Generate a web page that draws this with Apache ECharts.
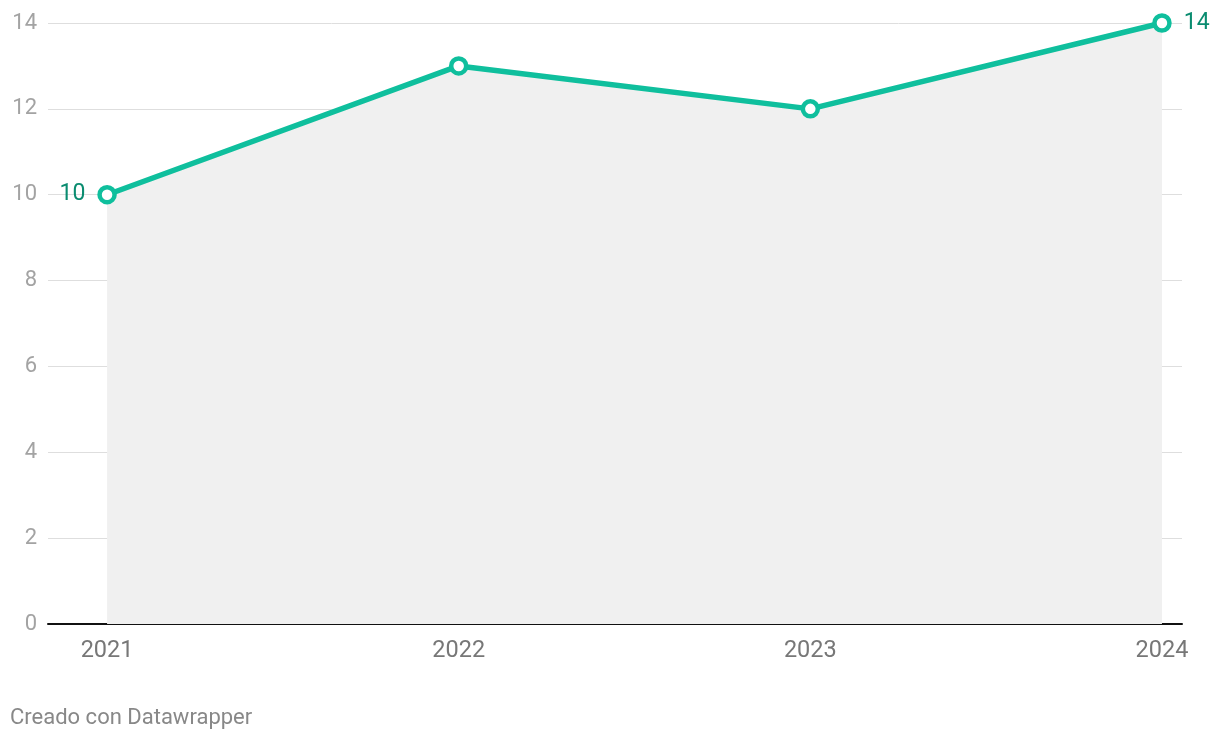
<!DOCTYPE html>
<html><head><meta charset="utf-8">
<script src="https://cdn.jsdelivr.net/npm/echarts@6/dist/echarts.min.js"></script>
<style>html,body{margin:0;padding:0;background:#fff}#c{width:1220px;height:740px}</style>
</head><body><div id="c"></div>
<script>
const years = [2021, 2022, 2023, 2024];
const values = [10, 13, 12, 14];
const yTicks = [0, 2, 4, 6, 8, 10, 12, 14];

const chart = echarts.init(document.getElementById('c'), null, {renderer: 'canvas'});
const teal = '#0fbf9d';
const labelTeal = '#0a8c70';
const data = years.map((y, i) => {
  const d = {value: [y, values[i]]};
  if (i === 0) d.label = {show: true, position: 'left', distance: 12};
  if (i === years.length - 1) d.label = {show: true, position: 'right', distance: 12};
  return d;
});
chart.setOption({
  animation: false,
  textStyle: {fontFamily: 'Roboto'},
  grid: {left: 48, right: 38, top: 23, bottom: 116, containLabel: false},
  xAxis: {
    type: 'value', min: 2020.832, max: 2024.057,
    axisLine: {show: true, lineStyle: {color: '#111', width: 2}},
    axisTick: {show: false},
    splitLine: {show: false},
    axisLabel: {customValues: years, color: '#777', fontSize: 23.5, margin: 15, fontFamily: 'Roboto',
      formatter: v => String(v)}
  },
  yAxis: {
    type: 'value', min: 0, max: 14, interval: 2,
    axisLine: {show: false}, axisTick: {show: false},
    splitLine: {lineStyle: {color: '#dedede', width: 1}},
    axisLabel: {color: '#a3a3a3', fontSize: 22, margin: 11, fontFamily: 'Roboto',
      formatter: v => yTicks.includes(v) ? String(v) : ''}
  },
  series: [{
    type: 'line', data: data,
    lineStyle: {color: teal, width: 5.5},
    itemStyle: {color: '#fff', borderColor: teal, borderWidth: 4.5},
    symbol: 'circle', symbolSize: 15, showAllSymbol: true,
    areaStyle: {color: '#f0f0f0', opacity: 1, origin: 'start'},
    label: {show: false, color: labelTeal, fontSize: 23, fontFamily: 'Roboto', formatter: p => p.value[1]},
    z: 3
  }],
  graphic: [{
    type: 'text', left: 10, top: 707,
    style: {text: 'Creado con Datawrapper', fill: '#888', fontSize: 22, fontFamily: 'Roboto'}
  }]
});
</script></body></html>
